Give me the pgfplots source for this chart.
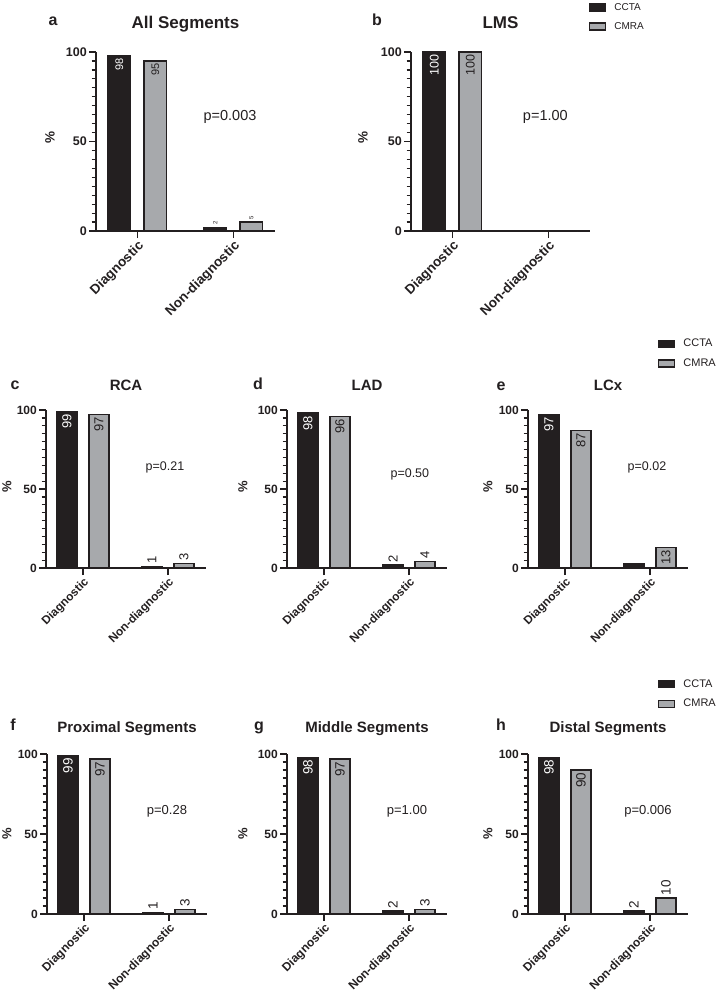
\documentclass[border=0pt]{standalone}
\usepackage{fontspec}
\setmainfont{Liberation Sans}
\usepackage{pgfplots}
\pgfplotsset{compat=1.18}
\definecolor{dk}{HTML}{231F20}
\definecolor{gr}{HTML}{A7A9AC}
\newcommand{\fs}[1]{\fontsize{#1}{#1}\selectfont}
% label inside top of bar
\newcommand{\lin}[5]{\node[rotate=90,anchor=east,inner sep=0.5pt,text=#4,font=#5] at ([xshift=#1,yshift=-2pt]axis cs:#2,#3) {#3};}
% label above bar
\newcommand{\lab}[4]{\node[rotate=90,anchor=west,inner sep=0.5pt,text=dk,font=#4] at ([xshift=#1,yshift=2pt]axis cs:#2,#3) {#3};}
% axis ticks (major 0/50/100, minor every 5, category ticks)
\newcommand{\myticks}{%
  \pgfplotsinvokeforeach{0,0.5,1}{\draw[dk,line width=1.4pt] (rel axis cs:0,##1) -- ++(-7pt,0pt);}
  \pgfplotsinvokeforeach{0.05,0.1,0.15,0.2,0.25,0.3,0.35,0.4,0.45,0.55,0.6,0.65,0.7,0.75,0.8,0.85,0.9,0.95}{\draw[dk,line width=1.2pt] (rel axis cs:0,##1) -- ++(-4.5pt,0pt);}
  \pgfplotsinvokeforeach{0,1}{\draw[dk,line width=1.4pt] (axis cs:##1,0) -- ++(0pt,-7pt);}
}
\pgfplotsset{
  base/.style={
    scale only axis, clip=false,
    axis lines=left,
    axis line style={-, line width=1.5pt, draw=dk},
    ymin=0, ymax=100, ytick={0,50,100}, yticklabels={0,50,100},
    minor ytick={5,10,15,20,25,30,35,40,45,55,60,65,70,75,80,85,90,95},
    xtick={0,1}, xticklabels={Diagnostic,Non-diagnostic},
    tick align=outside, xtick pos=bottom, ytick pos=left,
    major tick length=7pt, minor tick length=4.5pt,
    tick style={line width=1.4pt, color=dk},
    minor tick style={line width=1.2pt, color=dk},
    xticklabel style={rotate=45, anchor=north east, inner sep=1pt, text=dk},
    yticklabel style={inner sep=2pt, text=dk},
  },
  row1/.style={base, width=179pt, height=179pt, xmin=-0.43, xmax=1.435, bar width=22.5pt,
    xticklabel style={font=\bfseries\fs{13.5}}, yticklabel style={font=\bfseries\fs{12.5}}},
  row2/.style={base, width=160pt, height=158pt, xmin=-0.435, xmax=1.447, bar width=20pt,
    xticklabel style={font=\bfseries\fs{11.8}}, yticklabel style={font=\bfseries\fs{12}}},
  row3/.style={base, width=160pt, height=160pt, xmin=-0.435, xmax=1.447, bar width=20pt,
    xticklabel style={font=\bfseries\fs{12}}, yticklabel style={font=\bfseries\fs{12}}},
  ccta/.style={ybar, fill=dk, draw=dk, line width=1.4pt, forget plot},
  cmra/.style={ybar, fill=gr, draw=dk, line width=1.4pt, forget plot},
  leg/.style={legend style={at={(axis description cs:#1)}, anchor=north west, draw=none, fill=none,
    inner sep=0pt, row sep=6.5pt, cells={anchor=west, text=dk},
    /tikz/every odd column/.append style={column sep=6pt}}},
}
\newcommand{\legimg}[1]{\addlegendimage{legend image code/.code={\draw[fill=#1,draw=dk,line width=1.2pt] (0pt,-3.5pt) rectangle (16pt,3.5pt);}}}
\begin{document}
\begin{tikzpicture}
\useasboundingbox (0pt,0pt) rectangle (716pt,-993pt);
% ---------------- a
\begin{axis}[row1, at={(96pt,-231pt)}, anchor=south west]
\addplot[ccta, bar shift=-18pt] coordinates {(0,98) (1,2)};
\addplot[cmra, bar shift=18pt] coordinates {(0,95) (1,5)};
\myticks
\lin{-18pt}{0}{98}{white}{\fs{11}}
\lin{18pt}{0}{95}{dk}{\fs{11}}
\lab{-18pt}{1}{2}{\fs{6}}
\lab{18pt}{1}{5}{\fs{6}}
\node[anchor=base, font=\fs{14.5}, text=dk] at (axis cs:0.966,62) {p=0.003};
\end{axis}
% ---------------- b
\begin{axis}[row1, at={(411pt,-231pt)}, anchor=south west, leg={0.994,1.285}, legend style={font=\fs{10}}]
\addplot[ccta, bar shift=-18pt] coordinates {(0,100) (1,0)};
\addplot[cmra, bar shift=18pt] coordinates {(0,100) (1,0)};
\myticks
\lin{-18pt}{0}{100}{white}{\fs{12.5}}
\lin{18pt}{0}{100}{dk}{\fs{12.5}}
\node[anchor=base, font=\fs{14.5}, text=dk] at (axis cs:0.97,61.5) {p=1.00};
\legimg{dk}\addlegendentry{CCTA}
\legimg{gr}\addlegendentry{CMRA}
\end{axis}
% ---------------- c
\begin{axis}[row2, at={(46pt,-568pt)}, anchor=south west]
\addplot[ccta, bar shift=-16pt] coordinates {(0,99) (1,1)};
\addplot[cmra, bar shift=16pt] coordinates {(0,97) (1,3)};
\myticks
\lin{-16pt}{0}{99}{white}{\fs{13}}
\lin{16pt}{0}{97}{dk}{\fs{13}}
\lab{-16pt}{1}{1}{\fs{13}}
\lab{16pt}{1}{3}{\fs{13}}
\node[anchor=base, font=\fs{12.5}, text=dk] at (axis cs:0.965,62) {p=0.21};
\end{axis}
% ---------------- d
\begin{axis}[row2, at={(287pt,-568pt)}, anchor=south west]
\addplot[ccta, bar shift=-16pt] coordinates {(0,98) (1,2)};
\addplot[cmra, bar shift=16pt] coordinates {(0,96) (1,4)};
\myticks
\lin{-16pt}{0}{98}{white}{\fs{13}}
\lin{16pt}{0}{96}{dk}{\fs{13}}
\lab{-16pt}{1}{2}{\fs{13}}
\lab{16pt}{1}{4}{\fs{13}}
\node[anchor=base, font=\fs{12.5}, text=dk] at (axis cs:1.01,57.6) {p=0.50};
\end{axis}
% ---------------- e
\begin{axis}[row2, at={(528pt,-568pt)}, anchor=south west, leg={0.8125,1.462}, legend style={font=\fs{11}}]
\addplot[ccta, bar shift=-16pt] coordinates {(0,97) (1,3)};
\addplot[cmra, bar shift=16pt] coordinates {(0,87) (1,13)};
\myticks
\lin{-16pt}{0}{97}{white}{\fs{13}}
\lin{16pt}{0}{87}{dk}{\fs{13}}
\lin{16pt}{1}{13}{dk}{\fs{13}}
\node[anchor=base, font=\fs{12.5}, text=dk] at (axis cs:0.965,62) {p=0.02};
\legimg{dk}\addlegendentry{CCTA}
\legimg{gr}\addlegendentry{CMRA}
\end{axis}
% ---------------- f
\begin{axis}[row3, at={(47pt,-914pt)}, anchor=south west]
\addplot[ccta, bar shift=-16pt] coordinates {(0,99) (1,1)};
\addplot[cmra, bar shift=16pt] coordinates {(0,97) (1,3)};
\myticks
\lin{-16pt}{0}{99}{white}{\fs{13.5}}
\lin{16pt}{0}{97}{dk}{\fs{13.5}}
\lab{-16pt}{1}{1}{\fs{13.5}}
\lab{16pt}{1}{3}{\fs{13.5}}
\node[anchor=base, font=\fs{13}, text=dk] at (axis cs:0.976,61.9) {p=0.28};
\end{axis}
% ---------------- g
\begin{axis}[row3, at={(287pt,-914pt)}, anchor=south west]
\addplot[ccta, bar shift=-16pt] coordinates {(0,98) (1,2)};
\addplot[cmra, bar shift=16pt] coordinates {(0,97) (1,3)};
\myticks
\lin{-16pt}{0}{98}{white}{\fs{13.5}}
\lin{16pt}{0}{97}{dk}{\fs{13.5}}
\lab{-16pt}{1}{2}{\fs{13.5}}
\lab{16pt}{1}{3}{\fs{13.5}}
\node[anchor=base, font=\fs{13}, text=dk] at (axis cs:0.976,62) {p=1.00};
\end{axis}
% ---------------- h
\begin{axis}[row3, at={(528pt,-914pt)}, anchor=south west, leg={0.8125,1.48}, legend style={font=\fs{11}}]
\addplot[ccta, bar shift=-16pt] coordinates {(0,98) (1,2)};
\addplot[cmra, bar shift=16pt] coordinates {(0,90) (1,10)};
\myticks
\lin{-16pt}{0}{98}{white}{\fs{13.5}}
\lin{16pt}{0}{90}{dk}{\fs{13.5}}
\lab{-16pt}{1}{2}{\fs{13.5}}
\lab{16pt}{1}{10}{\fs{13.5}}
\node[anchor=base, font=\fs{13}, text=dk] at (axis cs:0.976,62) {p=0.006};
\legimg{dk}\addlegendentry{CCTA}
\legimg{gr}\addlegendentry{CMRA}
\end{axis}
% ---------------- titles, panel letters, y labels
\begin{scope}[every node/.style={text=dk}]
\node[anchor=base, font=\bfseries\fs{17}] at (185.5pt,-28pt) {All Segments};
\node[anchor=base, font=\bfseries\fs{17}] at (500.5pt,-28pt) {LMS};
\node[anchor=base, font=\bfseries\fs{15}] at (126pt,-390pt) {RCA};
\node[anchor=base, font=\bfseries\fs{15}] at (367pt,-390pt) {LAD};
\node[anchor=base, font=\bfseries\fs{15}] at (608pt,-390pt) {LCx};
\node[anchor=base, font=\bfseries\fs{15}] at (127pt,-732pt) {Proximal Segments};
\node[anchor=base, font=\bfseries\fs{15}] at (367pt,-732pt) {Middle Segments};
\node[anchor=base, font=\bfseries\fs{15}] at (608pt,-732pt) {Distal Segments};
\node[anchor=base, font=\bfseries\fs{16}] at (53pt,-25pt) {a};
\node[anchor=base, font=\bfseries\fs{16}] at (377pt,-25pt) {b};
\node[anchor=base, font=\bfseries\fs{16}] at (15pt,-389pt) {c};
\node[anchor=base, font=\bfseries\fs{16}] at (258pt,-389pt) {d};
\node[anchor=base, font=\bfseries\fs{16}] at (501pt,-390pt) {e};
\node[anchor=base, font=\bfseries\fs{16}] at (13pt,-730pt) {f};
\node[anchor=base, font=\bfseries\fs{16}] at (259pt,-730pt) {g};
\node[anchor=base, font=\bfseries\fs{16}] at (501pt,-730pt) {h};
\node[rotate=90, font=\bfseries\fs{13.5}] at (50pt,-137pt) {\%};
\node[rotate=90, font=\bfseries\fs{13.5}] at (363pt,-137pt) {\%};
\node[rotate=90, font=\bfseries\fs{13}] at (7pt,-487pt) {\%};
\node[rotate=90, font=\bfseries\fs{13}] at (243pt,-487pt) {\%};
\node[rotate=90, font=\bfseries\fs{13}] at (488pt,-487pt) {\%};
\node[rotate=90, font=\bfseries\fs{13}] at (7pt,-834pt) {\%};
\node[rotate=90, font=\bfseries\fs{13}] at (243pt,-834pt) {\%};
\node[rotate=90, font=\bfseries\fs{13}] at (488pt,-834pt) {\%};
\end{scope}
\end{tikzpicture}
\end{document}
